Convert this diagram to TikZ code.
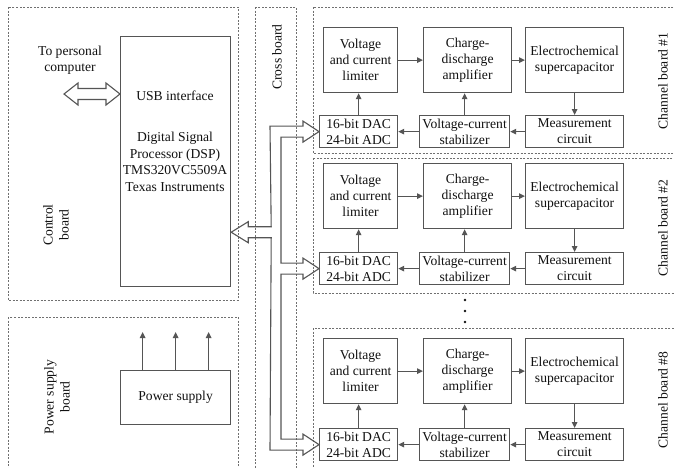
\documentclass[tikz,border=0pt]{standalone}
\usepackage{fontspec}
\setmainfont{Liberation Serif}
\usetikzlibrary{arrows.meta,calc}
\definecolor{linec}{HTML}{555555}
\definecolor{dashc}{HTML}{707070}
\definecolor{txtc}{HTML}{111111}
\newcommand{\chanboard}[3]{%
  \node[blk, minimum width=74pt, minimum height=65pt] (lim#1) at (323,#2) {Voltage\\and current\\limiter};
  \node[blk, minimum width=88pt, minimum height=65pt] (amp#1) at (423,#2) {Charge-\\discharge\\amplifier};
  \node[blk, minimum width=98pt, minimum height=65pt] (cap#1) at (525,#2) {Electrochemical\\supercapacitor};
  \node[blk, minimum width=78pt, minimum height=32pt] (dac#1) at (319,#3) {16-bit DAC\\24-bit ADC};
  \node[blk, minimum width=90pt, minimum height=32pt] (stab#1) at (419,#3) {Voltage-current\\stabilizer};
  \node[blk, minimum width=98pt, minimum height=32pt] (meas#1) at (525,#3) {Measurement\\circuit};
  \draw[conn] (lim#1) -- (amp#1);
  \draw[conn] (amp#1) -- (cap#1);
  \draw[conn] (cap#1) -- (meas#1);
  \draw[conn] (meas#1) -- (stab#1);
  \draw[conn] (stab#1) -- (dac#1);
  \draw[conn] (stab#1.north) -- (stab#1.north |- amp#1.south);
  \draw[conn] (dac#1.north) -- (dac#1.north |- lim#1.south);
}
\begin{document}
\begin{tikzpicture}[x=1pt,y=-1pt,
  blk/.style={draw=linec, line width=1.2pt, anchor=north west, inner sep=0pt, align=center, text=txtc, font=\fontsize{13.6}{16}\selectfont},
  board/.style={draw=dashc, line width=1pt, dash pattern=on 2pt off 1.5pt},
  lbl/.style={text=txtc, align=center, inner sep=0pt, font=\fontsize{13.6}{16}\selectfont},
  conn/.style={draw=linec, line width=1.1pt, -{Triangle[length=6pt,width=5.5pt]}},
  bus/.style={draw=linec, line width=1.1pt, line join=miter}
]
\clip (0,0) rectangle (674,467);
\fill[white] (0,0) rectangle (674,467);

% boards
\draw[board] (8,7) rectangle (238,300);
\draw[board] (8,317) rectangle (238,490);
\draw[board] (255,7) rectangle (296,490);
\draw[board] (313,7) rectangle (690,153);
\draw[board] (313,158) rectangle (690,293);
\draw[board] (313,328) rectangle (690,490);

% board labels
\node[lbl, rotate=90] (lctrl) at (56,225) {Control\\board};
\node[lbl, rotate=90] (lpow) at (57,397) {Power supply\\board};
\node[lbl, rotate=90] (lcross) at (277,57) {Cross board};
\node[lbl, rotate=90] (lch1) at (663,81) {Channel board \#1};
\node[lbl, rotate=90] (lch2) at (663,228) {Channel board \#2};
\node[lbl, rotate=90] (lch8) at (663,400) {Channel board \#8};

% control board
\node[blk, minimum width=110pt, minimum height=250pt] (dsp) at (120,36) {};
\node[lbl] (usbt) at (175,96) {USB interface};
\node[lbl, font=\fontsize{13.6}{16.5}\selectfont] (dspt) at (175,162) {Digital Signal\\Processor (DSP)\\TMS320VC5509A\\Texas Instruments};
\node[lbl] (pc) at (70,60) {To personal\\computer};
\coordinate (usbr) at ($(dsp.north west)+(0,58)$);
\coordinate (usbl) at ($(usbr)+(-56,0)$);
\draw[bus] (usbl) -- ++(14,-11) -- ++(0,5.5) -- ($(usbr)+(-14,-5.5)$) -- ++(0,-5.5) -- (usbr)
  -- ++(-14,11) -- ++(0,-5.5) -- ($(usbl)+(14,5.5)$) -- ++(0,5.5) -- cycle;

% power supply
\node[blk, minimum width=110pt, minimum height=54pt] (ps) at (120,370) {Power supply};
\foreach \dx in {-33,0,33}
  \draw[conn] ($(ps.north)+(\dx,0)$) -- ++(0,-38);

% channels
\chanboard{1}{27}{115}
\chanboard{2}{163}{252}
\chanboard{8}{338}{428}

% dots
\foreach \yy in {300,311,322}
  \fill[txtc] (465,\yy) circle (1.4pt);

% bus
\coordinate (dspb) at ($(dsp.south east)+(0,-55)$);
\draw[bus] (dspb) -- ++(17,-10.5) -- ++(0,5)
  -- ($(dspb)+(40,-5.5)$)
  -- ($(dac1.west)+(-49,-5.5)$)
  -- ($(dac1.west)+(-16,-5.5)$) -- ++(0,-5) -- (dac1.west) -- ++(-16,10.5) -- ++(0,-5)
  -- ($(dac1.west)+(-38,5.5)$)
  -- ($(dac2.west)+(-38,-5.5)$)
  -- ($(dac2.west)+(-16,-5.5)$) -- ++(0,-5) -- (dac2.west) -- ++(-16,10.5) -- ++(0,-5)
  -- ($(dac2.west)+(-38,5.5)$)
  -- ($(dac8.west)+(-38,-5.5)$)
  -- ($(dac8.west)+(-16,-5.5)$) -- ++(0,-5) -- (dac8.west) -- ++(-16,10.5) -- ++(0,-5)
  -- ($(dac8.west)+(-49,5.5)$)
  -- ($(dspb)+(40,5.5)$)
  -- ($(dspb)+(17,5.5)$) -- ++(0,5) -- cycle;
\end{tikzpicture}
\end{document}
